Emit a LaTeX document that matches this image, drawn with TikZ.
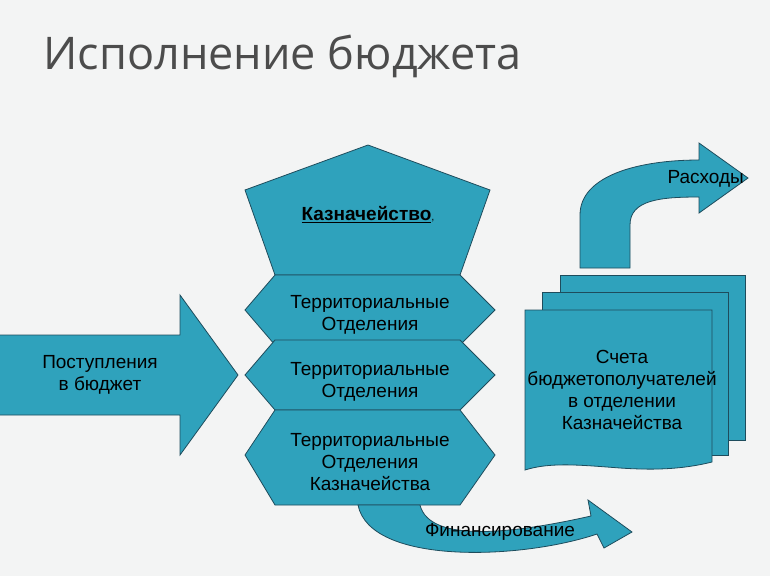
\documentclass[tikz,border=0pt]{standalone}
\usepackage{fontspec}
\setmainfont{Liberation Sans}
\newfontfamily\titlefont{Open Sans}
\usetikzlibrary{positioning}
\definecolor{teal1}{HTML}{2FA2BC}
\definecolor{edge1}{HTML}{1E4C5C}
\definecolor{bg1}{HTML}{F3F4F4}
\tikzset{%
	% shapes and labels
	part/.style = {fill=teal1, draw=edge1, line width=0.8pt},
	lbl/.style = {font=\fontsize{19pt}{22pt}\selectfont, align=center, text=black, inner sep=1pt}
}
\begin{document}
\begin{tikzpicture}[x=1pt, y=-1pt]
	\fill[bg1] (0,0) rectangle (770,576);
	\useasboundingbox (0,0) rectangle (770,576);
	\node (title) [anchor=west, text=black!70, font=\fontsize{45pt}{52pt}\selectfont\titlefont] at (40,56) {Исполнение бюджета};
	% incoming arrow
	\draw[part] (-2,335) -- (180,335) -- (180,295) -- (238,375) -- (180,455) -- (180,415) -- (-2,415) -- cycle;
	\node (income) [lbl] at (100,375) {Поступления\\в бюджет};
	% treasury and branches
	\draw[part] (368,145) -- (490,190) -- (460,275) -- (275,275) -- (245,190) -- cycle;
	\node (treasury) [lbl] at (368,215) {\underline{\textbf{Казначейство}}{\fontsize{11pt}{12pt}\selectfont,}};
	\draw[part] (275,275) -- (460,275) -- (495,310) -- (460,345) -- (275,345) -- (245,310) -- cycle;
	\node (branch1) [lbl] at (370,315) {Территориальные\\Отделения};
	\draw[part] (275,340) -- (460,340) -- (495,375) -- (460,410) -- (275,410) -- (245,375) -- cycle;
	\node (branch2) [lbl] at (370,382) {Территориальные\\Отделения};
	\draw[part] (275,410) -- (460,410) -- (495,455) -- (460,505) -- (275,505) -- (245,455) -- cycle;
	\node (branch3) [lbl] at (370,462) {Территориальные\\Отделения\\Казначейства};
	% financing arrow
	\draw[part] (358,505) .. controls (370,565) and (520,560) .. (597,534) -- (604,548) -- (632,532) -- (588,500) -- (591,516) .. controls (520,532) and (430,545) .. (420,505) -- cycle;
	\node (financing) [lbl] at (500,532) {Финансирование};
	% accounts stack
	\draw[part] (560,275) rectangle (745,440);
	\draw[part] (542,292) rectangle (728,455);
	\draw[part] (525,310) -- (712,310) -- (712,462) .. controls (680,470) and (650,470) .. (620,468) .. controls (580,465) and (550,462) .. (525,470) -- cycle;
	\node (accounts) [lbl] at (622,390) {Счета\\бюджетополучателей\\в отделении\\Казначейства};
	% expenses arrow
	\draw[part] (580,268) -- (580,215) .. controls (580,175) and (640,160) .. (699,160) -- (699,143) -- (748,178) -- (699,213) -- (699,197) .. controls (660,197) and (630,200) .. (630,225) -- (630,268) -- cycle;
	\node (expenses) [lbl, anchor=east] at (745,179) {Расходы};
\end{tikzpicture}
\end{document}
